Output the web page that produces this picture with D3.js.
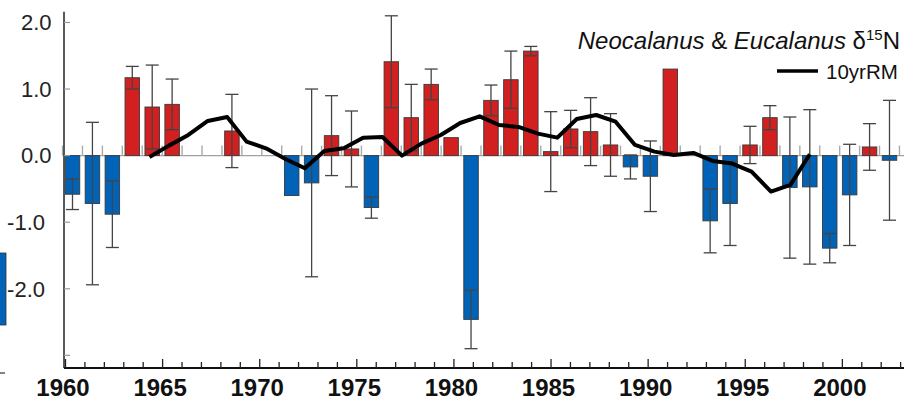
<!DOCTYPE html>
<html>
<head>
<meta charset="utf-8">
<script src="https://cdn.jsdelivr.net/npm/d3@7"></script>
<style>
    body { margin: 0; background: #fff; }
    svg { display: block; font-family: 'Liberation Sans', Arial, sans-serif; }
</style>
</head>
<body>
<div id="chart"></div>
<script>
// bar data (one slot per year position, null = no sample)
const barYears = d3.range(1960, 2002);
const barValues = [
    -0.58, -0.72, -0.88, 1.17, 0.73, 0.77, null, null, 0.37, null,
    null, -0.60, -0.41, 0.30, 0.10, -0.78, 1.41, 0.57, 1.07, 0.27,
    -2.46, 0.83, 1.14, 1.57, 0.06, 0.40, 0.36, 0.16, -0.17, -0.31,
    1.30, null, -0.98, -0.72, 0.16, 0.57, -0.48, -0.47, -1.39, -0.59,
    0.13, -0.07
];
const barErrors = [
    0.23, 1.22, 0.50, 0.17, 0.63, 0.38, null, null, 0.55, null,
    null, null, 1.41, 0.60, 0.57, 0.16, 0.69, 0.50, 0.23, null,
    0.44, 0.23, 0.43, 0.07, 0.60, 0.28, 0.51, 0.47, 0.18, 0.53,
    null, null, 0.48, 0.63, 0.28, 0.18, 1.06, 1.16, 0.22, 0.76,
    0.35, 0.90
];

// 10 year running mean
const rmYears = d3.range(1964, 1999);
const rmValues = [
    -0.02, 0.15, 0.31, 0.52, 0.58, 0.21, 0.11, -0.05, -0.19, 0.07,
    0.11, 0.27, 0.28, 0.00, 0.18, 0.31, 0.49, 0.59, 0.46, 0.43,
    0.33, 0.27, 0.55, 0.61, 0.51, 0.16, 0.06, 0.01, 0.04, -0.08,
    -0.12, -0.24, -0.54, -0.44, 0.02
];

const yTicks = [-3, -2, -1, 0, 1, 2];
const yLabels = ['', '-2.0', '-1.0', '0.0', '1.0', '2.0'];
const xMajor = [1960, 1965, 1970, 1975, 1980, 1985, 1990, 1995, 2000];

const bars = barYears.map((yr, i) => ({ year: yr, i: i, v: barValues[i], e: barErrors[i] }))
    .filter(d => d.v !== null);

// dimensions
const w = 904;
const h = 402;
const axisX = 64;
const axisY = 368;

const svg = d3.select('#chart')
    .append('svg')
    .attr('width', w)
    .attr('height', h);

// scales
const y_scale = d3.scaleLinear()
    .domain([-3.19, 2.16])
    .range([axisY, 11.8]);

const x_scale = d3.scaleLinear()
    .domain([1960, 2003.2])
    .range([65, w]);

// bars sit on their own, slightly wider spacing
const bar_scale = d3.scaleLinear()
    .domain([0, 41])
    .range([72.5, 889.5]);
const barW = 14.5;

// bit of neighbouring panel at the left edge
svg.append('rect')
    .attr('x', -1).attr('y', 253)
    .attr('width', 7).attr('height', 72)
    .attr('fill', '#0063b8')
    .attr('stroke', '#333').attr('stroke-width', 0.8);
svg.append('line')
    .attr('x1', 0).attr('x2', 5)
    .attr('y1', 373).attr('y2', 373)
    .attr('stroke', '#333').attr('stroke-width', 1.2);

// zero line with small gray ticks between bar slots
svg.append('line')
    .attr('x1', axisX).attr('x2', w)
    .attr('y1', y_scale(0)).attr('y2', y_scale(0))
    .attr('stroke', '#a0a0a0').attr('stroke-width', 1.2);

svg.append('g')
    .selectAll('line')
    .data(d3.range(-0.5, 42, 1))
    .enter()
    .append('line')
    .attr('x1', d => bar_scale(d)).attr('x2', d => bar_scale(d))
    .attr('y1', y_scale(0)).attr('y2', y_scale(0) - 10)
    .attr('stroke', '#aaa').attr('stroke-width', 1.4);

// bars
svg.append('g')
    .selectAll('rect')
    .data(bars)
    .enter()
    .append('rect')
    .attr('x', d => bar_scale(d.i) - barW / 2)
    .attr('y', d => y_scale(Math.max(0, d.v)))
    .attr('width', barW)
    .attr('height', d => Math.abs(y_scale(d.v) - y_scale(0)))
    .attr('fill', d => d.v >= 0 ? '#d21f1f' : '#0063b8')
    .attr('stroke', '#3a3a3a')
    .attr('stroke-width', 0.9);

// error bars
const errs = svg.append('g')
    .attr('stroke', '#444')
    .attr('stroke-width', 1.3);
const withErr = bars.filter(d => d.e !== null);

errs.selectAll('.stem')
    .data(withErr)
    .enter()
    .append('line')
    .attr('x1', d => bar_scale(d.i)).attr('x2', d => bar_scale(d.i))
    .attr('y1', d => y_scale(d.v + d.e)).attr('y2', d => y_scale(d.v - d.e));

['top', 'bot'].forEach(k => {
    errs.selectAll('.cap-' + k)
        .data(withErr)
        .enter()
        .append('line')
        .attr('x1', d => bar_scale(d.i) - 6.5).attr('x2', d => bar_scale(d.i) + 6.5)
        .attr('y1', d => y_scale(k === 'top' ? d.v + d.e : d.v - d.e))
        .attr('y2', d => y_scale(k === 'top' ? d.v + d.e : d.v - d.e));
});

// running mean line
const line = d3.line()
    .x((d, i) => x_scale(rmYears[i] + 0.35))
    .y(d => y_scale(d));

svg.append('path')
    .datum(rmValues)
    .attr('d', line)
    .attr('fill', 'none')
    .attr('stroke', '#000')
    .attr('stroke-width', 4)
    .attr('stroke-linejoin', 'round');

// y axis
const y_axis = svg.append('g')
    .attr('transform', `translate(${axisX}, 0)`);
y_axis.append('line')
    .attr('y1', 11.8).attr('y2', axisY)
    .attr('stroke', '#222').attr('stroke-width', 1.5);
y_axis.selectAll('.tick')
    .data(yTicks)
    .enter()
    .append('line')
    .attr('x1', 0).attr('x2', 6)
    .attr('y1', d => y_scale(d)).attr('y2', d => y_scale(d))
    .attr('stroke', '#999').attr('stroke-width', 1.2);
y_axis.selectAll('text')
    .data(yTicks)
    .enter()
    .append('text')
    .attr('x', d => d < 0 ? -19 : -12.5)
    .attr('y', d => y_scale(d) + 7.8)
    .attr('text-anchor', 'end')
    .attr('font-size', 22)
    .attr('fill', '#222')
    .text((d, i) => yLabels[i]);

// x axis: year ticks point up
const x_axis = d3.axisTop(x_scale)
    .tickValues(d3.range(1960, 2004))
    .tickSize(6)
    .tickFormat('');

const xg = svg.append('g')
    .attr('transform', `translate(0, ${axisY})`)
    .call(x_axis);
xg.select('.domain')
    .attr('d', `M${axisX},0H${w}`)
    .attr('stroke', '#111')
    .attr('stroke-width', 2);
xg.selectAll('.tick line')
    .attr('stroke', '#222')
    .attr('stroke-width', 1.3)
    .attr('y2', d => xMajor.includes(d) ? -9 : -6);

svg.append('g')
    .selectAll('text')
    .data(xMajor)
    .enter()
    .append('text')
    .attr('x', d => x_scale(d) - 2)
    .attr('y', 395.5)
    .attr('text-anchor', 'middle')
    .attr('font-size', 24)
    .attr('font-weight', 'bold')
    .attr('fill', '#111')
    .text(d => d);

// title
const title = svg.append('text')
    .attr('x', 900)
    .attr('y', 49)
    .attr('text-anchor', 'end')
    .attr('font-size', 24)
    .attr('fill', '#111');
title.append('tspan').attr('font-style', 'italic').text('Neocalanus');
title.append('tspan').text(' & ');
title.append('tspan').attr('font-style', 'italic').text('Eucalanus');
title.append('tspan').text(' δ');
title.append('tspan').attr('font-size', 15).attr('dy', -9).text('15');
title.append('tspan').attr('dy', 9).text('N');

// legend
svg.append('line')
    .attr('x1', 777).attr('x2', 818)
    .attr('y1', 71).attr('y2', 71)
    .attr('stroke', '#000').attr('stroke-width', 3.5);
svg.append('text')
    .attr('x', 826)
    .attr('y', 78.5)
    .attr('font-size', 20.5)
    .attr('fill', '#111')
    .text('10yrRM');
</script>
</body>
</html>
